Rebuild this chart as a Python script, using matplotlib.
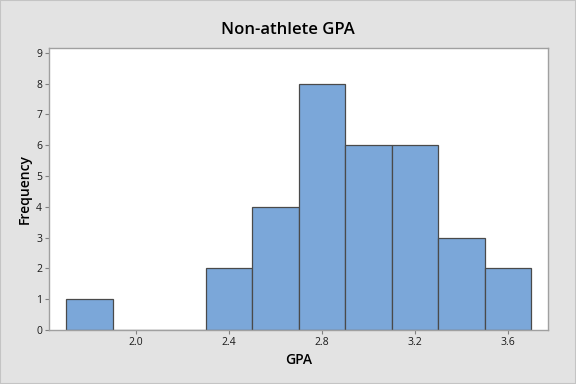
import matplotlib.pyplot as plt
from matplotlib.patches import Rectangle

# Histogram bins (centers) and counts
bin_centers = [1.8, 2.0, 2.2, 2.4, 2.6, 2.8, 3.0, 3.2, 3.4, 3.6]
counts = [1, 0, 0, 2, 4, 8, 6, 6, 3, 2]
x_ticks = [2.0, 2.4, 2.8, 3.2, 3.6]
x_tick_labels = ["2.0", "2.4", "2.8", "3.2", "3.6"]
y_ticks = list(range(10))

plt.rcParams["font.family"] = ["Open Sans", "DejaVu Sans"]

fig = plt.figure(figsize=(5.76, 3.84), dpi=100, facecolor="#e3e3e3")
fig.patches.append(Rectangle((0, 0), 1, 1, transform=fig.transFigure,
                             fill=False, edgecolor="#c4c4c4", linewidth=1.5))
ax = fig.add_axes([0.085, 0.141, 0.866, 0.734])
ax.set_facecolor("white")

ax.bar(bin_centers, counts, width=0.2, color="#7ba7d9",
       edgecolor="#4a4a4a", linewidth=0.9)

ax.set_xlim(1.626, 3.772)
ax.set_ylim(0, 9.16)
ax.set_xticks(x_ticks)
ax.set_xticklabels(x_tick_labels)
ax.set_yticks(y_ticks)
ax.tick_params(labelsize=7.5, length=3, width=0.8, color="#808080", pad=2,
               labelcolor="#1a1a1a")

for s in ax.spines.values():
    s.set_color("#a0a0a0")
    s.set_linewidth(1.0)

fig.suptitle("Non-athlete GPA", x=0.5, y=0.922, fontsize=12,
             fontweight="semibold", va="center")
ax.set_xlabel("GPA", fontsize=10, labelpad=4, fontweight="semibold")
ax.set_ylabel("Frequency", fontsize=10, labelpad=3, fontweight="semibold")

fig.savefig("out.png", dpi=100, facecolor=fig.get_facecolor())
